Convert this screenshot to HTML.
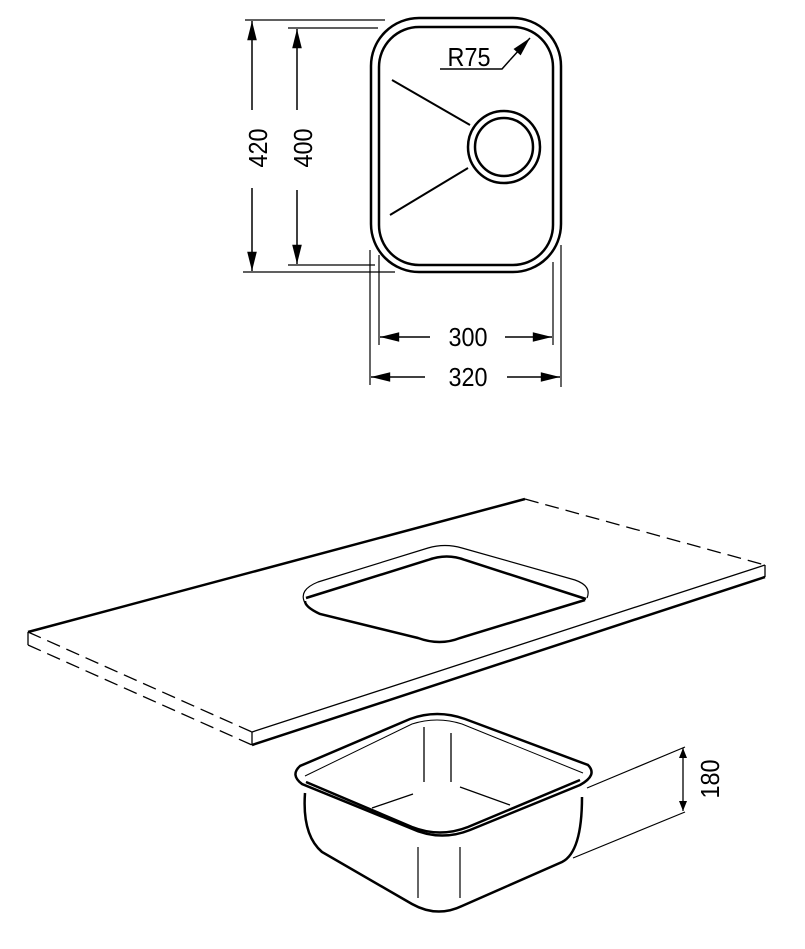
<!DOCTYPE html>
<html><head><meta charset="utf-8"><style>
html,body{margin:0;padding:0;background:#fff;}
svg{display:block;}
text{font-family:"Liberation Sans",sans-serif;fill:#000;}
</style></head><body>
<svg width="805" height="949" viewBox="0 0 805 949" xmlns="http://www.w3.org/2000/svg">
<defs>
<marker id="a" viewBox="0 0 10 10" refX="10" refY="5" markerWidth="10" markerHeight="10" markerUnits="userSpaceOnUse" orient="auto-start-reverse"><path d="M0,1 L10,5 L0,9 z" fill="#000"/></marker>
<marker id="b" viewBox="0 0 16 10" refX="16" refY="5" markerWidth="22" markerHeight="12" markerUnits="userSpaceOnUse" orient="auto-start-reverse"><path d="M0,1 L16,5 L0,9 z" fill="#000"/></marker>
</defs>
<g fill="none" stroke="#000">
<rect x="371" y="18" width="190" height="254" rx="48" stroke-width="2.5"/>
<rect x="379" y="27" width="174" height="238" rx="40" stroke-width="2.5"/>
<circle cx="504" cy="147" r="36" stroke-width="2.5"/>
<circle cx="504" cy="147" r="29" stroke-width="2.5"/>
<line x1="392" y1="80" x2="470" y2="125" stroke-width="2"/>
<line x1="390" y1="215" x2="468" y2="168" stroke-width="2"/>
<polyline points="440,69 502,69 510,60" stroke-width="1.5"/>
<line x1="510" y1="60" x2="530" y2="38" stroke-width="1.5" marker-end="url(#b)"/>
<line x1="245" y1="20" x2="385" y2="20" stroke-width="1.2"/>
<line x1="288" y1="28" x2="378" y2="28" stroke-width="1.2"/>
<line x1="243" y1="272" x2="395" y2="272" stroke-width="1.2"/>
<line x1="288" y1="265" x2="375" y2="265" stroke-width="1.2"/>
<line x1="370" y1="250" x2="370" y2="385" stroke-width="1.2"/>
<line x1="379" y1="255" x2="379" y2="345" stroke-width="1.2"/>
<line x1="553" y1="262" x2="553" y2="345" stroke-width="1.2"/>
<line x1="561" y1="245" x2="561" y2="387" stroke-width="1.2"/>
<line x1="252" y1="110" x2="252" y2="21" stroke-width="1.5" marker-end="url(#b)"/>
<line x1="252" y1="188" x2="252" y2="271" stroke-width="1.5" marker-end="url(#b)"/>
<line x1="297" y1="110" x2="297" y2="29" stroke-width="1.5" marker-end="url(#b)"/>
<line x1="297" y1="190" x2="297" y2="264" stroke-width="1.5" marker-end="url(#b)"/>
<line x1="430" y1="337" x2="380" y2="337" stroke-width="1.5" marker-end="url(#b)"/>
<line x1="505" y1="337" x2="552" y2="337" stroke-width="1.5" marker-end="url(#b)"/>
<line x1="425" y1="377" x2="371" y2="377" stroke-width="1.5" marker-end="url(#b)"/>
<line x1="507" y1="377" x2="560" y2="377" stroke-width="1.5" marker-end="url(#b)"/>
<line x1="28" y1="632" x2="525" y2="499" stroke-width="2.5"/>
<line x1="525" y1="499" x2="765" y2="565" stroke-width="1.3" stroke-dasharray="14,7"/>
<line x1="28" y1="632" x2="28" y2="645" stroke-width="1.3"/>
<line x1="765" y1="565" x2="765" y2="577" stroke-width="1.3"/>
<line x1="28" y1="632" x2="252" y2="732" stroke-width="1.3" stroke-dasharray="14,7"/>
<line x1="28" y1="645" x2="252" y2="745" stroke-width="1.3" stroke-dasharray="14,7"/>
<line x1="252" y1="732" x2="252" y2="745" stroke-width="1.3"/>
<line x1="252" y1="732" x2="765" y2="565" stroke-width="1.3"/>
<line x1="252" y1="745" x2="765" y2="577" stroke-width="2.5"/>
<path d="M305,603 Q298,590 318,582 L428,548 Q445,543 462,548 L575,580 Q592,586 587,598" stroke-width="1.2"/>
<path d="M306,598 L428,560 Q447,553 465,560 L586,599" stroke-width="2.5"/>
<path d="M305,601 Q305,607 320,614 L418,638 Q440,646 460,638 L585,600" stroke-width="2.5"/>
<path d="M300,766 Q290,775 302,784 L410,828 Q440,842 470,830 L580,785 Q598,775 588,765 L465,719 Q437,709 410,719 Z" stroke-width="2.5"/>
<path d="M305,776 L412,724 Q437,716 462,724 L583,773" stroke-width="1"/>
<path d="M306,782 L412,827 Q440,838 468,827 L580,780" stroke-width="2.5"/>
<path d="M305,793 Q302,835 322,852 L412,904 Q437,918 462,906 L562,862 Q582,852 582,797" stroke-width="2.5"/>
<line x1="424" y1="727" x2="424" y2="782" stroke-width="1.3"/>
<line x1="451" y1="733" x2="451" y2="782" stroke-width="1.3"/>
<line x1="372" y1="808" x2="413" y2="794" stroke-width="1.3"/>
<line x1="460" y1="787" x2="510" y2="805" stroke-width="1.3"/>
<line x1="418" y1="847" x2="418" y2="898" stroke-width="1.2"/>
<line x1="460" y1="847" x2="460" y2="898" stroke-width="1.2"/>
<line x1="587" y1="788" x2="685" y2="747" stroke-width="1.2"/>
<line x1="573" y1="858" x2="685" y2="812" stroke-width="1.2"/>
<line x1="683" y1="780" x2="683" y2="748" stroke-width="1.3" marker-end="url(#a)"/>
<line x1="683" y1="780" x2="683" y2="811" stroke-width="1.3" marker-end="url(#a)"/>
</g>
<text transform="translate(469,66) scale(0.9,1)" font-size="26" text-anchor="middle">R75</text>
<text transform="translate(267,148) rotate(-90) scale(0.9,1)" font-size="26" text-anchor="middle">420</text>
<text transform="translate(312,148) rotate(-90) scale(0.9,1)" font-size="26" text-anchor="middle">400</text>
<text transform="translate(468,346) scale(0.9,1)" font-size="26" text-anchor="middle">300</text>
<text transform="translate(468,386) scale(0.9,1)" font-size="26" text-anchor="middle">320</text>
<text transform="translate(719,779) rotate(-90) scale(0.9,1)" font-size="26" text-anchor="middle">180</text>
</svg>
</body></html>
